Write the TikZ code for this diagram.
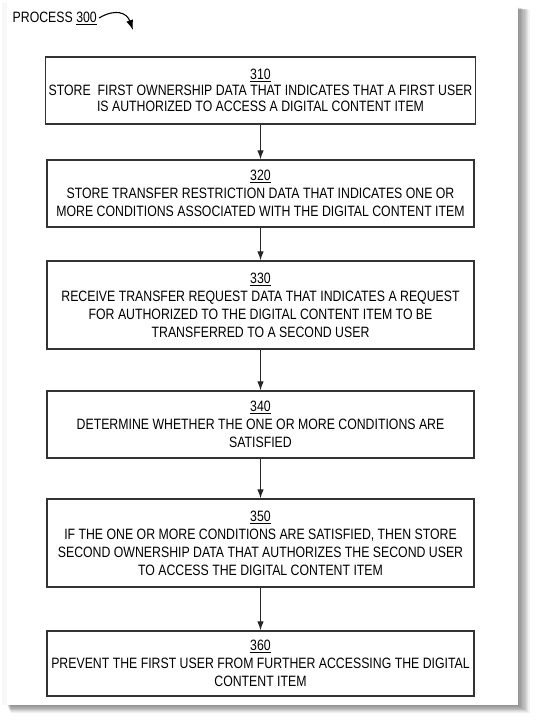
\documentclass[tikz,border=0pt]{standalone}
\usepackage{fontspec}
\setmainfont{Liberation Sans}[FakeStretch=0.82]
\usepackage{tikz}
\usetikzlibrary{arrows}
\usetikzlibrary{arrows.meta}

\begin{document}
\begin{tikzpicture}[x=1pt,y=-1pt]
        \useasboundingbox (0,0) rectangle (539,726);
        \tikzstyle{block} = [draw=black!80,line width=1.2pt,fill=white,minimum width=427pt,inner sep=3pt,align=center,font=\fontsize{15}{18}\selectfont]
        \tikzstyle{flow} = [line width=1.1pt,draw=black!85,->,>={Latex[length=9pt,width=6.5pt]}]
        % page and its shadow
        \foreach \s in {1,...,9}
          \fill[black,opacity=0.06] (7+0.4*\s,7+0.3*\s) rectangle (518+1.3*\s,705+0.9*\s);
        \fill[black!3] (2,3) rectangle (7,705);
        \fill[white] (7,7) rectangle (518,705);
        \node[anchor=west,font=\fontsize{15}{16}\selectfont,inner sep=0pt] (proc) at (12.5,18) {PROCESS \underline{300}};
        \coordinate (ptr) at (133,30);
        \draw[line width=1.1pt,->,>={Latex[length=10pt,width=7pt]}] ([xshift=2pt]proc.east) .. controls (116,8) and (127,13) .. (ptr);
        % steps
        \node[block,minimum height=67pt] (b310) at (260.5,90.5) {\underline{310}\\[-2pt]STORE\ \ FIRST OWNERSHIP DATA THAT INDICATES THAT A FIRST USER\\[-2pt]IS AUTHORIZED TO ACCESS A DIGITAL CONTENT ITEM};
        \node[block,minimum height=67pt] (b320) at (260.5,193.5) {\underline{320}\\STORE TRANSFER RESTRICTION DATA THAT INDICATES ONE OR\\MORE CONDITIONS ASSOCIATED WITH THE DIGITAL CONTENT ITEM};
        \node[block,minimum height=88pt] (b330) at (260.5,305) {\underline{330}\\RECEIVE TRANSFER REQUEST DATA THAT INDICATES A REQUEST\\FOR AUTHORIZED TO THE DIGITAL CONTENT ITEM TO BE\\TRANSFERRED TO A SECOND USER};
        \node[block,minimum height=67pt] (b340) at (260.5,424.5) {\underline{340}\\DETERMINE WHETHER THE ONE OR MORE CONDITIONS ARE\\SATISFIED};
        \node[block,minimum height=88pt] (b350) at (260.5,543) {\underline{350}\\IF THE ONE OR MORE CONDITIONS ARE SATISFIED, THEN STORE\\SECOND OWNERSHIP DATA THAT AUTHORIZES THE SECOND USER\\TO ACCESS THE DIGITAL CONTENT ITEM};
        \node[block,minimum height=65pt] (b360) at (260.5,663.5) {\underline{360}\\PREVENT THE FIRST USER FROM FURTHER ACCESSING THE DIGITAL\\CONTENT ITEM};
        \draw[flow] (b310)--(b320);
        \draw[flow] (b320)--(b330);
        \draw[flow] (b330)--(b340);
        \draw[flow] (b340)--(b350);
        \draw[flow] (b350)--(b360);
\end{tikzpicture}
\end{document}
